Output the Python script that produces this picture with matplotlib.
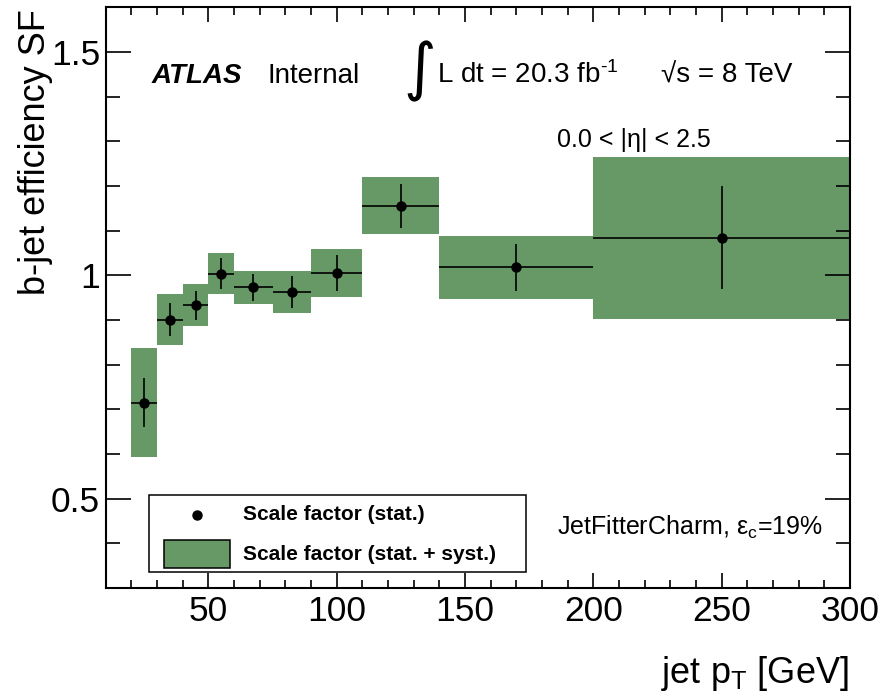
import matplotlib
matplotlib.use("Agg")
import matplotlib.pyplot as plt
from matplotlib.patches import Rectangle
from matplotlib.ticker import MultipleLocator, FuncFormatter
import numpy as np

plt.rcParams['font.family'] = ['Liberation Sans', 'DejaVu Sans']
plt.rcParams['mathtext.fontset'] = 'custom'
plt.rcParams['mathtext.rm'] = 'Liberation Sans'
plt.rcParams['mathtext.it'] = 'Liberation Sans:italic'
plt.rcParams['mathtext.bf'] = 'Liberation Sans:bold'

# ---- data ----
bin_lo = [20, 30, 40, 50, 60, 75, 90, 110, 140, 200]
bin_hi = [30, 40, 50, 60, 75, 90, 110, 140, 200, 300]
sf     = [0.715, 0.901, 0.933, 1.004, 0.973, 0.962, 1.005, 1.156, 1.018, 1.084]
stat   = [0.055, 0.036, 0.032, 0.035, 0.030, 0.036, 0.040, 0.049, 0.053, 0.115]
total  = [0.122, 0.057, 0.047, 0.045, 0.037, 0.047, 0.054, 0.063, 0.071, 0.181]
x_ticks = [50, 100, 150, 200, 250, 300]
y_ticks = [0.5, 1.0, 1.5]
legend_labels = ['Scale factor (stat.)', 'Scale factor (stat. + syst.)']

GREEN = '#669966'

W, H = 895, 698
fig = plt.figure(figsize=(W/100, H/100), dpi=100)
L, R, T, B = 105.7, 850.0, 7.3, 588.0
ax = fig.add_axes([L/W, 1 - B/H, (R-L)/W, (B-T)/H])

def axf(px, py):
    return ((px - L)/(R - L), (B - py)/(B - T))

lo = np.array(bin_lo, float); hi = np.array(bin_hi, float)
sfa = np.array(sf); tot = np.array(total)
centers = (lo + hi)/2
ax.bar(lo, 2*tot, bottom=sfa - tot, width=hi - lo, align='edge',
       color=GREEN, linewidth=0, zorder=1)
ax.errorbar(centers, sfa, xerr=(hi - lo)/2, yerr=stat, fmt='o', color='black',
            ms=6.5, elinewidth=1.2, capsize=0, zorder=3)

ax.set_xlim(10, 300)
ax.set_ylim(0.3, 1.6)
ax.set_xticks(x_ticks)
ax.set_yticks(y_ticks)
ax.xaxis.set_minor_locator(MultipleLocator(10))
ax.yaxis.set_minor_locator(MultipleLocator(0.1))
ax.yaxis.set_major_formatter(FuncFormatter(lambda v, p: '%g' % v))
for s in ax.spines.values():
    s.set_linewidth(1.5)
ax.tick_params(axis='x', which='major', direction='in', length=11, width=1.2,
               top=True, labelsize=25.5, pad=5)
ax.tick_params(axis='x', which='minor', direction='in', length=6, width=1.2, top=True)
ax.tick_params(axis='y', which='major', direction='in', length=18, width=1.2,
               right=True, labelsize=25.5, pad=4)
ax.tick_params(axis='y', which='minor', direction='in', length=10, width=1.2, right=True)

# axis titles
fig.text(36/W, 1 - 9/H, 'b-jet efficiency SF', rotation=90, ha='center', va='top', fontsize=26)
fig.text(849/W, 1 - 683/H, r'jet p$_{\mathrm{T}}$ [GeV]', ha='right', va='baseline', fontsize=26)

# annotations
tx = ax.transAxes
ax.text(*axf(152, 83), 'ATLAS', transform=tx, fontsize=20, fontweight='bold',
        fontstyle='italic', va='baseline', ha='left')
ax.text(*axf(268, 83), 'Internal', transform=tx, fontsize=20, va='baseline', ha='left')
ax.text(*axf(420, 71), '\u222b', transform=tx, fontsize=45, va='center', ha='center',
        family=['DejaVu Sans'])
ax.text(*axf(437, 83), r'L dt = 20.3 fb$^{\text{-1}}$', transform=tx, fontsize=20,
        va='baseline', ha='left')
ax.text(*axf(661, 83), '\u221as = 8 TeV', transform=tx, fontsize=20, va='baseline', ha='left')
ax.text(*axf(557, 146.7), '0.0 < |\u03b7| < 2.5', transform=tx, fontsize=18,
        va='baseline', ha='left')
ax.text(*axf(557, 535), 'JetFitterCharm, \u03b5$_{\\mathrm{c}}$=19%', transform=tx,
        fontsize=18, va='baseline', ha='left')

# legend
x0, y0 = axf(149, 572.3); x1, y1 = axf(525.7, 495)
ax.add_patch(Rectangle((x0, y0), x1 - x0, y1 - y0, transform=tx, fill=False,
                       edgecolor='black', linewidth=1.1, zorder=5))
ax.plot(*axf(197, 514.5), 'o', color='black', ms=6.5, transform=tx, zorder=6)
p0x, p0y = axf(164, 568); p1x, p1y = axf(230, 540)
ax.add_patch(Rectangle((p0x, p0y), p1x - p0x, p1y - p0y, transform=tx,
                       facecolor=GREEN, edgecolor='black', linewidth=1.1, zorder=6))
ax.text(*axf(243, 520), legend_labels[0], transform=tx, fontsize=15, fontweight='bold',
        va='baseline', ha='left')
ax.text(*axf(243, 560), legend_labels[1], transform=tx, fontsize=15, fontweight='bold',
        va='baseline', ha='left')

fig.savefig('out.png', dpi=100)
